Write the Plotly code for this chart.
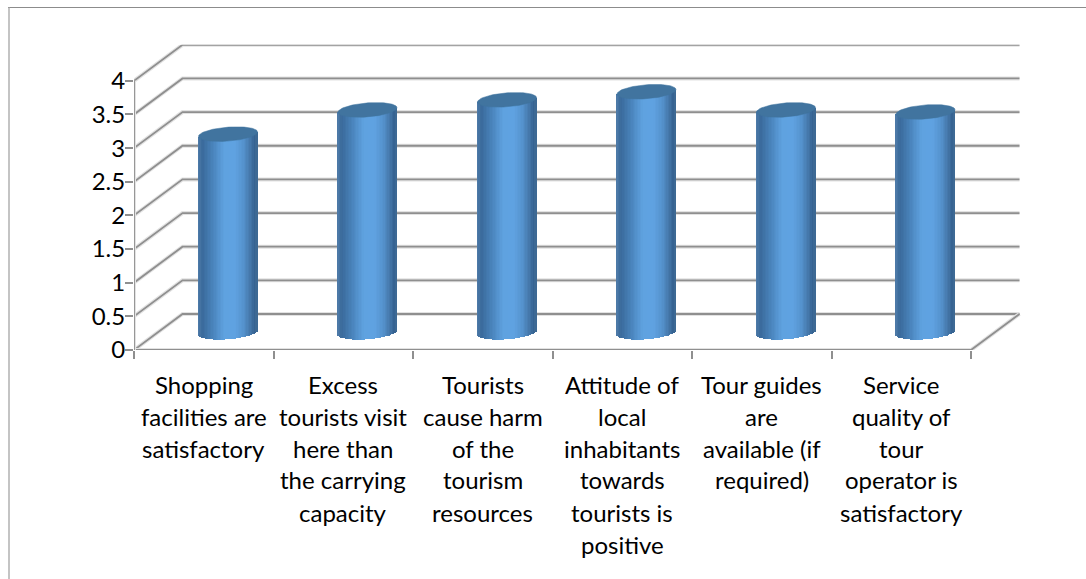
import numpy as np
import plotly.graph_objects as go

categories = [
    "Shopping<br>facilities are<br>satisfactory",
    "Excess<br>tourists visit<br>here than<br>the carrying<br>capacity",
    "Tourists<br>cause harm<br>of the<br>tourism<br>resources",
    "Attitude of<br>local<br>inhabitants<br>towards<br>tourists is<br>positive",
    "Tour guides<br>are<br>available (if<br>required)",
    "Service<br>quality of<br>tour<br>operator is<br>satisfactory",
]
values = [2.94, 3.30, 3.45, 3.57, 3.30, 3.27]
y_ticks = [0, 0.5, 1, 1.5, 2, 2.5, 3, 3.5, 4]
y_tick_text = ["0", "0.5", "1", "1.5", "2", "2.5", "3", "3.5", "4"]

W, H = 1086, 579
FONT = "Lato"
FS = 24
GRID = "#8f8f8f"
SHADOW = "#e2e2e2"

# pixel layout of the axes
PX_L, PX_R, PX_B, PX_T = 134.0, 1021.0, 350.0, 44.7
UX, UY = 139.5, 67.3
DX, DY = 48.5 / UX, 36.0 / UY     # depth offset in data units
x_range = [0, (PX_R - PX_L) / UX]
y_range = [0, (PX_B - PX_T) / UY]
n = len(categories)

fig = go.Figure()


def seg(xs, ys):
    for color, width in ((SHADOW, 4), (GRID, 1.8)):
        fig.add_trace(go.Scatter(x=xs, y=ys, mode="lines", showlegend=False, hoverinfo="skip",
                                 cliponaxis=False, line=dict(color=color, width=width)))


# walls and floor
for v in y_ticks:
    seg([0, DX, n + DX], [v, v + DY, v + DY])
seg([0, n, n + DX], [0, 0, DY])
seg([0, 0], [0, 4])

# cylinders, on an overlaid axis pair so that they sit above the wall lines
RX, RY, TILT = 29.5 / UX, 7.0 / UY, 2.2 / UY
N_STRIPES = 40
edges = np.linspace(-1, 1, N_STRIPES + 1)
u = (edges[:-1] + edges[1:]) / 2
stops_u = [-1.0, -0.85, -0.5, -0.1, 0.25, 0.55, 0.8, 0.95, 1.0]
stops_c = np.array([
    [80, 125, 170], [58, 106, 155], [74, 132, 188], [95, 162, 224], [96, 163, 226],
    [85, 146, 205], [68, 118, 168], [52, 96, 142], [70, 115, 155]], float)
stripe_colors = ["rgb(%d,%d,%d)" % tuple(np.interp(t, stops_u, stops_c[:, k]) for k in range(3)) for t in u]

for i, val in enumerate(values):
    cx = i + 0.5 + DX / 2
    cb = DY / 2
    sx = cx + u * RX
    lower = cb + TILT * u - RY * np.sqrt(1 - u ** 2)
    upper = cb + val + TILT * u
    fig.add_trace(go.Bar(x=sx, y=upper - lower, base=lower, width=2 * RX / N_STRIPES * 1.25,
                         marker=dict(color=stripe_colors, line=dict(width=0)),
                         xaxis="x2", yaxis="y2", showlegend=False, hoverinfo="skip"))
    t = np.linspace(0, 2 * np.pi, 90)
    fig.add_trace(go.Scatter(x=cx + RX * np.cos(t),
                             y=cb + val + RY * np.sin(t) + TILT * np.cos(t),
                             mode="lines", fill="toself", fillcolor="#41749f",
                             line=dict(color="#41749f", width=0.5),
                             xaxis="x2", yaxis="y2", showlegend=False, hoverinfo="skip"))

# category labels, one text per line for the original line pitch
annotations = []
LINE0, PITCH = 384.0, 32.0
for i, cat in enumerate(categories):
    for k, line in enumerate(cat.split("<br>")):
        annotations.append(dict(x=i + 0.5, xref="x", y=1 - (LINE0 + k * PITCH) / H, yref="paper",
                                text=line, showarrow=False, xanchor="center", yanchor="middle",
                                font=dict(family=FONT, size=FS, color="#000000")))

xdom = [PX_L / W, PX_R / W]
ydom = [1 - PX_B / H, 1 - PX_T / H]
fig.update_layout(
    width=W, height=H, autosize=False, margin=dict(l=0, r=0, t=0, b=0, pad=0, autoexpand=False),
    paper_bgcolor="white", plot_bgcolor="white", barmode="overlay", bargap=0,
    showlegend=False, annotations=annotations,
    xaxis=dict(domain=xdom, range=x_range, showgrid=False, zeroline=False, showline=False,
               tickvals=[], fixedrange=True,
               minor=dict(tickvals=list(range(n + 1)), ticks="outside", ticklen=8, tickwidth=1.6,
                          tickcolor=GRID, showgrid=False)),
    yaxis=dict(domain=ydom, range=y_range, showgrid=False, zeroline=False, showline=False,
               tickvals=y_ticks, ticktext=y_tick_text, ticks="outside", ticklen=8, tickwidth=1.6,
               ticklabelstandoff=-5,
               tickcolor=GRID, tickfont=dict(family=FONT, size=FS, color="#000000"), fixedrange=True),
    xaxis2=dict(domain=xdom, range=x_range, overlaying="x", visible=False, anchor="y2", fixedrange=True),
    yaxis2=dict(domain=ydom, range=y_range, overlaying="y", visible=False, anchor="x2", fixedrange=True),
    shapes=[
        dict(type="line", xref="paper", yref="paper", x0=8 / W, x1=1, y0=1 - 7.5 / H, y1=1 - 7.5 / H,
             line=dict(color="#8c8c8c", width=1)),
        dict(type="line", xref="paper", yref="paper", x0=9 / W, x1=9 / W, y0=0, y1=1 - 7.5 / H,
             line=dict(color="#b0b0b0", width=1.5)),
    ],
)
fig.write_html("out.html", config={"displayModeBar": False},
               post_script="document.body.style.margin='0';document.documentElement.style.overflow='hidden';")
